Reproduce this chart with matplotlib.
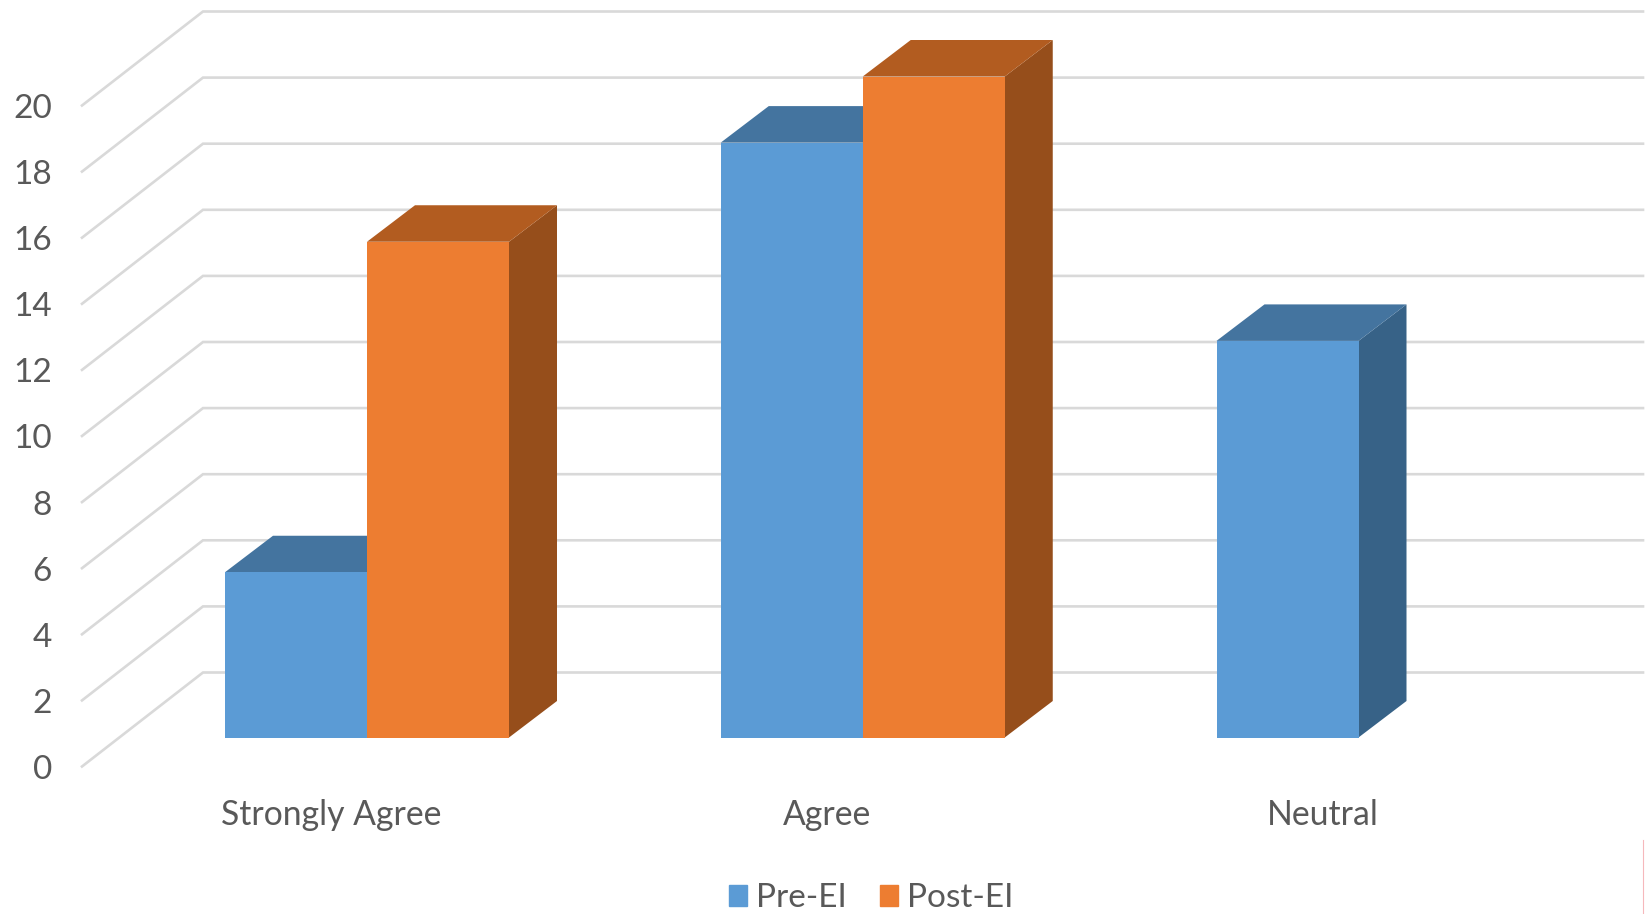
import matplotlib
matplotlib.use('Agg')
import matplotlib.pyplot as plt
from matplotlib.patches import Patch

categories = ['Strongly Agree', 'Agree', 'Neutral']
pre_ei = [5, 18, 12]
post_ei = [15, 20, 0]
y_ticks = [0, 2, 4, 6, 8, 10, 12, 14, 16, 18, 20]

W, H = 1650, 914
# pixels per category / per unit value on the plane the bars stand on
PX_CAT = 495.75
PX_VAL = 33.05
X0_PX = 367.0
Y0_PX = 737.5

BAR_W = 142 / PX_CAT
DEPTH_X = 48 / PX_CAT
DEPTH_Y = 36.5 / PX_VAL

# floor edges relative to the bar plane
BACK_DY = 65 / PX_VAL
FRONT_DY = -29 / PX_VAL
FRONT_X = (82 - X0_PX) / PX_CAT
BACK_X = (203 - X0_PX) / PX_CAT
RIGHT_X = (1643 - X0_PX) / PX_CAT

BLUE = ('#5B9BD5', '#44749F', '#376287')
ORANGE = ('#ED7D31', '#B25C20', '#964E1B')
GRID = '#D9D9D9'
TEXT = '#595959'

plt.rcParams['font.family'] = ['Lato', 'DejaVu Sans']

fig = plt.figure(figsize=(W / 100, H / 100), dpi=100)
ax = fig.add_axes([0, 0, 1, 1])
ax.set_xlim(-X0_PX / PX_CAT, (W - X0_PX) / PX_CAT)
ax.set_ylim((Y0_PX - H) / PX_VAL, Y0_PX / PX_VAL)
ax.axis('off')


def draw_bar(left, value, colors):
    # box: side and top first, the front face goes over them
    if value <= 0:
        return
    front, top, side = colors
    right = left + BAR_W
    ax.fill([right, right + DEPTH_X, right + DEPTH_X, right],
            [0, DEPTH_Y, value + DEPTH_Y, value], color=side, lw=0, zorder=3)
    ax.fill([left, left + DEPTH_X, right + DEPTH_X, right],
            [value, value + DEPTH_Y, value + DEPTH_Y, value], color=top, lw=0, zorder=3)
    ax.bar(left, value, BAR_W, align='edge', color=front, lw=0, zorder=3)


# gridlines along the back wall and the floor
for tick in y_ticks:
    ax.plot([FRONT_X, BACK_X, RIGHT_X],
            [tick + FRONT_DY, tick + BACK_DY, tick + BACK_DY],
            color=GRID, lw=1.9, solid_joinstyle='miter', zorder=1)
    ax.text((52 - X0_PX) / PX_CAT, tick + FRONT_DY - 3.5 / PX_VAL, str(tick),
            ha='right', va='center', fontsize=24, color=TEXT)

for i, cat in enumerate(categories):
    draw_bar(i - BAR_W, pre_ei[i], BLUE)
    draw_bar(i, post_ei[i], ORANGE)
    ax.text(i - 36 / PX_CAT, -2.35, cat, ha='center', va='center', fontsize=24.3, color=TEXT)

handles = [Patch(color=BLUE[0], label='Pre-EI'), Patch(color=ORANGE[0], label='Post-EI')]
leg = ax.legend(handles=handles, loc='center', bbox_to_anchor=(871 / W, 1 - 898 / H), ncol=2,
                frameon=False, fontsize=24, labelcolor=TEXT, handlelength=0.56, handleheight=0.6,
                handletextpad=0.26, columnspacing=0.98, borderpad=0, borderaxespad=0)

# thin pink rule at the lower right edge
ax.plot([(1643.3 - X0_PX) / PX_CAT] * 2, [(Y0_PX - 840) / PX_VAL, (Y0_PX - H) / PX_VAL],
        color='#F6B8BC', lw=0.8)

fig.savefig('out.png', dpi=100, facecolor='white')
